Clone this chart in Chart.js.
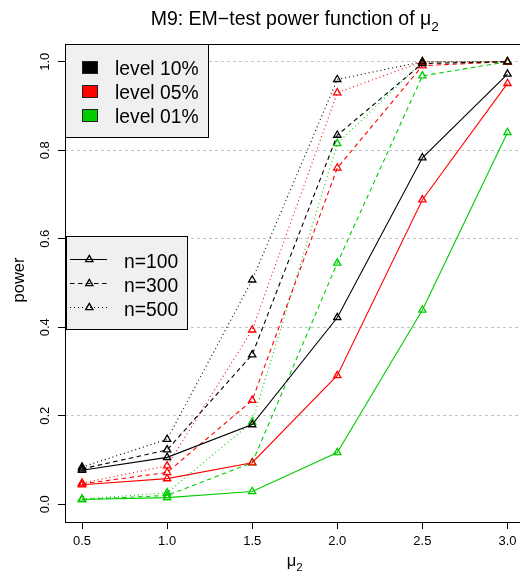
<!DOCTYPE html>
<html><head><meta charset="utf-8">
<script src="https://cdn.jsdelivr.net/npm/chart.js@4/dist/chart.umd.min.js"></script>
<style>
html,body{margin:0;padding:0;background:#fff;overflow:hidden;width:520px;height:574px}
#wrap{position:absolute;left:0;top:0;width:530px;height:574px}
</style>
</head><body>
<div id="wrap"><canvas id="c" width="530" height="574"></canvas></div>
<script>
// ---- data ----
const mu = [0.5, 1.0, 1.5, 2.0, 2.5, 3.0];
const xTicks = [0.5, 1.0, 1.5, 2.0, 2.5, 3.0];
const yTicks = [0.0, 0.2, 0.4, 0.6, 0.8, 1.0];
const n100_l10 = [0.077, 0.106, 0.180, 0.422, 0.783, 0.972];
const n100_l05 = [0.044, 0.058, 0.094, 0.291, 0.688, 0.951];
const n100_l01 = [0.011, 0.015, 0.029, 0.117, 0.439, 0.840];
const n300_l10 = [0.080, 0.123, 0.338, 0.834, 0.996, 1.000];
const n300_l05 = [0.046, 0.072, 0.235, 0.760, 0.991, 1.000];
const n300_l01 = [0.011, 0.020, 0.094, 0.545, 0.968, 1.000];
const n500_l10 = [0.084, 0.147, 0.507, 0.960, 1.000, 1.000];
const n500_l05 = [0.048, 0.087, 0.394, 0.930, 1.000, 1.000];
const n500_l01 = [0.012, 0.026, 0.186, 0.815, 1.000, 1.000];
const levelLabels = ['level 10%', 'level 05%', 'level 01%'];
const sizeLabels = ['n=100', 'n=300', 'n=500'];
const titleText = 'M9: EM\u2212test power function of \u03bc';
const titleSub = '2';
const xLabel = '\u03bc';
const xLabelSub = '2';
const yLabel = 'power';

// ---- styles ----
const FONT = '"Liberation Sans", Arial, sans-serif';
const colors = ['#000000', '#FF0000', '#00CD00'];
const dashes = [[], [4.5, 3.5], [1, 3]];

const series = [
  [n100_l10, n100_l05, n100_l01],
  [n300_l10, n300_l05, n300_l01],
  [n500_l10, n500_l05, n500_l01]
];
const datasets = [];
series.forEach((grp, si) => grp.forEach((vals, li) => {
  datasets.push({
    label: sizeLabels[si] + ' ' + levelLabels[li],
    data: mu.map((m, i) => ({x: m, y: vals[i]})),
    borderColor: colors[li],
    backgroundColor: 'transparent',
    borderWidth: 1.1,
    borderDash: dashes[si],
    tension: 0,
    fill: false,
    pointStyle: 'triangle',
    pointRadius: 4.2,
    pointBorderWidth: 1.3,
    pointBorderColor: colors[li],
    pointBackgroundColor: 'transparent'
  });
}));

const decor = {
  id: 'decor',
  afterDatasetsDraw(chart) {
    const ctx = chart.ctx;
    const a = chart.chartArea;
    ctx.save();
    // frame
    ctx.strokeStyle = '#000'; ctx.lineWidth = 1; ctx.setLineDash([]);
    ctx.strokeRect(Math.round(a.left) + 0.5, Math.round(a.top) + 0.5, Math.round(a.right - a.left), Math.round(a.bottom - a.top));

    // legend 1 (levels)
    ctx.fillStyle = '#f0f0f0';
    ctx.fillRect(65.5, 44.5, 143, 93);
    ctx.strokeRect(65.5, 44.5, 143, 93);
    ctx.font = '19.3px ' + FONT;
    ctx.textBaseline = 'alphabetic';
    ctx.textAlign = 'left';
    levelLabels.forEach((t, i) => {
      const cy = 67.5 + i * 24;
      ctx.fillStyle = colors[i];
      ctx.fillRect(82.5, cy - 6, 15, 12);
      ctx.strokeStyle = '#222';
      ctx.strokeRect(82.5, cy - 6, 15, 12);
      ctx.fillStyle = '#000';
      ctx.fillText(t, 115, cy + 7.5);
    });

    // legend 2 (sample sizes)
    ctx.fillStyle = '#f0f0f0';
    ctx.fillRect(66.5, 236.5, 121, 93);
    ctx.strokeStyle = '#000';
    ctx.strokeRect(66.5, 236.5, 121, 93);
    sizeLabels.forEach((t, i) => {
      const cy = 259.5 + i * 24;
      ctx.strokeStyle = '#000';
      ctx.lineWidth = 1.1;
      ctx.setLineDash(dashes[i]);
      ctx.beginPath(); ctx.moveTo(70, cy); ctx.lineTo(107, cy); ctx.stroke();
      ctx.setLineDash([]);
      // triangle marker
      const r = 4.2, x = 89.3;
      ctx.fillStyle = '#f0f0f0';
      ctx.lineWidth = 1.3;
      ctx.beginPath();
      ctx.moveTo(x, cy - r);
      ctx.lineTo(x + r * Math.sqrt(3) / 2, cy + r / 2);
      ctx.lineTo(x - r * Math.sqrt(3) / 2, cy + r / 2);
      ctx.closePath();
      ctx.stroke();
      ctx.fillStyle = '#000';
      ctx.fillText(t, 124, cy + 8);
    });
    ctx.lineWidth = 1;

    // title
    const cx = (a.left + a.right) / 2;
    ctx.fillStyle = '#000';
    ctx.font = '19.5px ' + FONT;
    const w1 = ctx.measureText(titleText).width;
    ctx.font = '13.6px ' + FONT;
    const w2 = ctx.measureText(titleSub).width;
    let sx = cx - (w1 + w2) / 2;
    ctx.font = '19.5px ' + FONT;
    ctx.fillText(titleText, sx, 25);
    ctx.font = '13.6px ' + FONT;
    ctx.fillText(titleSub, sx + w1, 31);

    // x label
    ctx.font = '16.5px ' + FONT;
    const w3 = ctx.measureText(xLabel).width;
    ctx.font = '11.5px ' + FONT;
    const w4 = ctx.measureText(xLabelSub).width;
    sx = cx - (w3 + w4) / 2;
    ctx.font = '16.5px ' + FONT;
    ctx.fillText(xLabel, sx, 566);
    ctx.font = '11.5px ' + FONT;
    ctx.fillText(xLabelSub, sx + w3, 571);

    // y label
    ctx.save();
    ctx.translate(23.5, 280);
    ctx.rotate(-Math.PI / 2);
    ctx.font = '16.5px ' + FONT;
    ctx.textAlign = 'center';
    ctx.fillText(yLabel, 0, 0);
    ctx.restore();

    ctx.restore();
  }
};

new Chart(document.getElementById('c'), {
  type: 'line',
  data: { datasets },
  options: {
    responsive: false,
    animation: false,
    devicePixelRatio: 1,
    layout: { padding: { top: 44, left: 0, right: 3.6, bottom: 0 } },
    plugins: { legend: { display: false }, title: { display: false }, tooltip: { enabled: false } },
    scales: {
      x: {
        type: 'linear', min: 0.4, max: 3.1,
        afterBuildTicks: s => { s.ticks = xTicks.map(v => ({value: v})); },
        afterFit: s => { s.height = 52; },
        grid: { drawOnChartArea: false, drawTicks: true, tickLength: 7, tickColor: '#000', tickWidth: 1 },
        border: { display: false },
        ticks: { autoSkip: false, font: { family: FONT, size: 13 }, color: '#000', padding: 5, maxRotation: 0, minRotation: 0, callback: v => Number(v).toFixed(1) }
      },
      y: {
        type: 'linear', min: -0.04, max: 1.04,
        afterBuildTicks: s => { s.ticks = yTicks.map(v => ({value: v})); },
        afterFit: s => { s.width = 65; },
        grid: {
          color: c => (c.tick && Math.abs(c.tick.value) < 1e-9) ? 'rgba(0,0,0,0)' : '#c4c4c4',
          lineWidth: 1, drawTicks: true, tickLength: 7, tickColor: '#000', tickWidth: 1
        },
        border: { display: false, dash: [3, 3] },
        ticks: { autoSkip: false, font: { family: FONT, size: 13 }, color: '#000', padding: 4, minRotation: 90, maxRotation: 90, crossAlign: 'center', callback: v => Number(v).toFixed(1) }
      }
    }
  },
  plugins: [decor]
});
</script>
</body></html>
